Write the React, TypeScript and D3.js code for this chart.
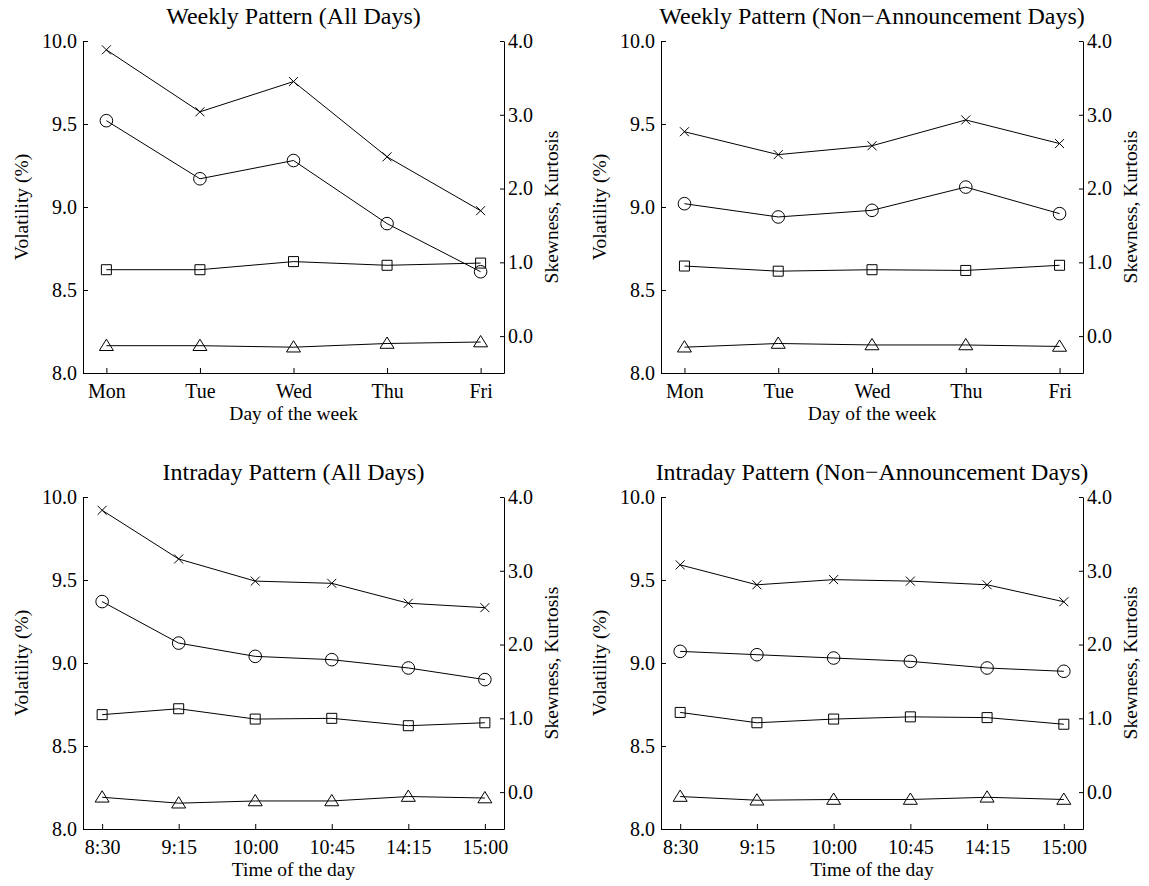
import React, { useEffect, useRef } from "react";
import * as d3 from "d3";

// categories
const weekDays = ["Mon", "Tue", "Wed", "Thu", "Fri"];
const intradayTimes = ["8:30", "9:15", "10:00", "10:45", "14:15", "15:00"];

// tick labels
const volTicks = [8.0, 8.5, 9.0, 9.5, 10.0];
const momentTicks = [0.0, 1.0, 2.0, 3.0, 4.0];

// weekly, all days
const weeklyAllCircle = [9.52, 9.17, 9.28, 8.9, 8.61];
const weeklyAllCross = [3.88, 3.04, 3.45, 2.43, 1.7];
const weeklyAllSquare = [0.9, 0.9, 1.01, 0.96, 0.99];
const weeklyAllTriangle = [-0.13, -0.13, -0.15, -0.1, -0.08];

// weekly, non-announcement days
const weeklyNonCircle = [9.02, 8.94, 8.98, 9.12, 8.96];
const weeklyNonCross = [2.77, 2.46, 2.58, 2.93, 2.61];
const weeklyNonSquare = [0.95, 0.88, 0.9, 0.89, 0.96];
const weeklyNonTriangle = [-0.15, -0.1, -0.12, -0.12, -0.14];

// intraday, all days
const intraAllCircle = [9.37, 9.12, 9.04, 9.02, 8.97, 8.9];
const intraAllCross = [3.82, 3.16, 2.86, 2.83, 2.56, 2.5];
const intraAllSquare = [1.05, 1.13, 0.99, 1.0, 0.9, 0.94];
const intraAllTriangle = [-0.07, -0.15, -0.12, -0.12, -0.06, -0.08];

// intraday, non-announcement days
const intraNonCircle = [9.07, 9.05, 9.03, 9.01, 8.97, 8.95];
const intraNonCross = [3.08, 2.81, 2.88, 2.86, 2.81, 2.58];
const intraNonSquare = [1.08, 0.94, 0.99, 1.02, 1.01, 0.92];
const intraNonTriangle = [-0.06, -0.11, -0.1, -0.1, -0.07, -0.1];

const FONT = '"Liberation Serif", "Times New Roman", Times, serif';

const markerPaths: Record<string, string> = {
  cross: "M-4.5,-4.5L4.5,4.5M-4.5,4.5L4.5,-4.5",
  circle: "M6.3,0A6.3,6.3 0 1,1 -6.3,0A6.3,6.3 0 1,1 6.3,0Z",
  square: "M-5,-5H5V5H-5Z",
  triangle: "M0,-6.5L7,4.8L-7,4.8Z",
};

const panels = [
  {
    title: "Weekly Pattern (All Days)",
    xLabel: "Day of the week",
    cats: weekDays,
    circle: weeklyAllCircle,
    cross: weeklyAllCross,
    square: weeklyAllSquare,
    triangle: weeklyAllTriangle,
    box: { left: 83, right: 504, top: 41, bottom: 373 },
  },
  {
    title: "Weekly Pattern (Non\u2212Announcement Days)",
    xLabel: "Day of the week",
    cats: weekDays,
    circle: weeklyNonCircle,
    cross: weeklyNonCross,
    square: weeklyNonSquare,
    triangle: weeklyNonTriangle,
    box: { left: 661, right: 1083, top: 41, bottom: 373 },
  },
  {
    title: "Intraday Pattern (All Days)",
    xLabel: "Time of the day",
    cats: intradayTimes,
    circle: intraAllCircle,
    cross: intraAllCross,
    square: intraAllSquare,
    triangle: intraAllTriangle,
    box: { left: 83, right: 504, top: 497, bottom: 829 },
  },
  {
    title: "Intraday Pattern (Non\u2212Announcement Days)",
    xLabel: "Time of the day",
    cats: intradayTimes,
    circle: intraNonCircle,
    cross: intraNonCross,
    square: intraNonSquare,
    triangle: intraNonTriangle,
    box: { left: 661, right: 1083, top: 497, bottom: 829 },
  },
];

const App = () => {
  const svgRef = useRef<SVGSVGElement | null>(null);

  useEffect(() => {
    const root = d3.select(svgRef.current);
    root.selectAll("*").remove();

    panels.forEach((p) => {
      const { left, right, top, bottom } = p.box;
      const g = root.append("g");

      const x = d3.scalePoint<string>().domain(p.cats).range([left, right]).padding(0.25);
      const yVol = d3.scaleLinear().domain([8, 10]).range([bottom, top]);
      const yMom = d3.scaleLinear().domain([-0.5, 4]).range([bottom, top]);

      // axes
      const styleAxis = (sel: any, size: number) => {
        sel.attr("font-family", FONT).attr("font-size", size);
        sel.select(".domain").attr("stroke", "#000").attr("stroke-width", 1);
        sel.selectAll(".tick line").attr("stroke", "#000");
        sel.selectAll(".tick text").attr("fill", "#000");
      };

      g.append("g")
        .attr("transform", `translate(${left},0)`)
        .call(
          d3.axisLeft(yVol).tickValues(volTicks).tickFormat(d3.format(".1f")).tickSize(-5).tickSizeOuter(0).tickPadding(6)
        )
        .call((s) => styleAxis(s, 20));

      g.append("g")
        .attr("transform", `translate(${right},0)`)
        .call(
          d3.axisRight(yMom).tickValues(momentTicks).tickFormat(d3.format(".1f")).tickSize(-4).tickSizeOuter(0).tickPadding(4)
        )
        .call((s) => styleAxis(s, 20));

      g.append("g")
        .attr("transform", `translate(0,${bottom})`)
        .call(d3.axisBottom(x).tickSize(-5).tickSizeOuter(0).tickPadding(11))
        .call((s) => styleAxis(s, 20));

      // title and labels
      g.append("text")
        .attr("x", (left + right) / 2)
        .attr("y", top - 17)
        .attr("text-anchor", "middle")
        .attr("font-family", FONT)
        .attr("font-size", 24)
        .text(p.title);

      g.append("text")
        .attr("x", (left + right) / 2)
        .attr("y", bottom + 47)
        .attr("text-anchor", "middle")
        .attr("font-family", FONT)
        .attr("font-size", 19.5)
        .text(p.xLabel);

      g.append("text")
        .attr("transform", `translate(${left - 55},${(top + bottom) / 2}) rotate(-90)`)
        .attr("text-anchor", "middle")
        .attr("font-family", FONT)
        .attr("font-size", 19.5)
        .text("Volatility (%)");

      g.append("text")
        .attr("transform", `translate(${right + 54},${(top + bottom) / 2}) rotate(-90)`)
        .attr("text-anchor", "middle")
        .attr("font-family", FONT)
        .attr("font-size", 19.5)
        .text("Skewness, Kurtosis");

      // series
      const series = [
        { values: p.cross, y: yMom, marker: "cross" },
        { values: p.circle, y: yVol, marker: "circle" },
        { values: p.square, y: yMom, marker: "square" },
        { values: p.triangle, y: yMom, marker: "triangle" },
      ];

      series.forEach((s) => {
        const pts = s.values.map((v, i) => [x(p.cats[i]) as number, s.y(v)] as [number, number]);
        g.append("path")
          .attr("d", d3.line()(pts))
          .attr("fill", "none")
          .attr("stroke", "#000")
          .attr("stroke-width", 1);
        g.selectAll(`.m-${s.marker}`)
          .data(pts)
          .enter()
          .append("path")
          .attr("class", `m-${s.marker}`)
          .attr("transform", (d) => `translate(${d[0]},${d[1]})`)
          .attr("d", markerPaths[s.marker])
          .attr("fill", "none")
          .attr("stroke", "#000")
          .attr("stroke-width", 1);
      });
    });
  }, []);

  return (
    <svg
      ref={svgRef}
      width={1149}
      height={886}
      style={{ position: "absolute", left: 0, top: 0, background: "#fff" }}
    ></svg>
  );
};

export default App;
